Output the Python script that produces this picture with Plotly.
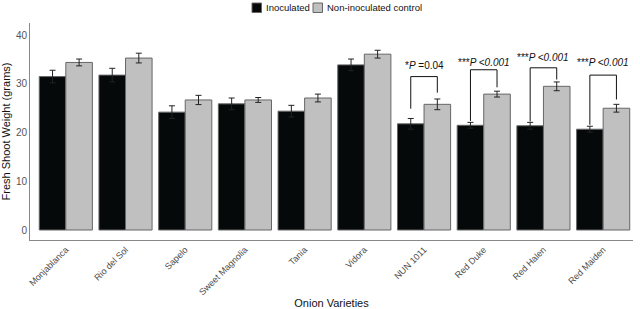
import plotly.graph_objects as go

varieties = ["Monjablanca", "Rio del Sol", "Sapelo", "Sweet Magnolia", "Tania",
             "Vidora", "NUN 1011", "Red Duke", "Red Halen", "Red Maiden"]
inoculated = [31.5, 31.8, 24.2, 25.9, 24.4, 33.9, 21.8, 21.5, 21.4, 20.7]
inoculated_err = [1.3, 1.4, 1.3, 1.2, 1.2, 1.2, 1.1, 0.6, 0.7, 0.6]
control = [34.4, 35.3, 26.7, 26.7, 27.1, 36.1, 25.8, 27.9, 29.5, 25.0]
control_err = [0.7, 1.0, 0.95, 0.5, 0.8, 0.8, 1.1, 0.6, 0.9, 0.8]

# significance brackets: variety index, label, top, left-leg bottom, right-leg bottom, label centre
sig_index = [6, 7, 8, 9]
sig_label = ["*<i>P</i> =0.04", "***<i>P <0.001</i>", "***<i>P <0.001</i>", "***<i>P <0.001</i>"]
sig_top = [31.5, 32.9, 33.3, 31.8]
sig_left = [24.9, 22.4, 22.3, 21.6]
sig_right = [28.2, 29.3, 30.9, 26.8]
sig_text_y = [33.7, 34.4, 35.5, 34.3]

series_names = ["Inoculated", "Non-inoculated control"]
series_colors = ["#050909", "#c0c0c0"]

FONT = "Liberation Sans, Arial, sans-serif"
BARGAP = 0.11
half = (1 - BARGAP) / 4

fig = go.Figure()
for name, col, vals, errs in zip(series_names, series_colors,
                                 [inoculated, control], [inoculated_err, control_err]):
    fig.add_trace(go.Bar(
        x=list(range(len(varieties))), y=vals, name=name, showlegend=False,
        marker=dict(color=col, line=dict(color="#666666", width=1)),
        error_y=dict(type="data", array=errs, color="#222222", thickness=1, width=3),
    ))

for i, lab, top, lb, rb, ty in zip(sig_index, sig_label, sig_top, sig_left, sig_right, sig_text_y):
    xl = i - half
    xr = i + half
    fig.add_shape(type="path", xref="x", yref="y",
                  path=f"M {xl} {lb} L {xl} {top} L {xr} {top} L {xr} {rb}",
                  line=dict(color="#111111", width=1))
    fig.add_annotation(x=i, y=ty, xref="x", yref="y", text=lab, showarrow=False,
                       font=dict(family=FONT, size=10, color="#111111"), yanchor="middle")

# manual legend (paper coords; plot area spans x 30..633 px, y 23..240 px)
PW, PH = 603.0, 217.0
def px(xp):
    return (xp - 30) / PW
def py(yp):
    return (240 - yp) / PH

leg_x = [252, 313]
for lx, name, col in zip(leg_x, series_names, series_colors):
    fig.add_shape(type="rect", xref="paper", yref="paper",
                  x0=px(lx), x1=px(lx + 9.5), y0=py(12.5), y1=py(3),
                  fillcolor=col, line=dict(color="#666666", width=1))
    fig.add_annotation(xref="paper", yref="paper", x=px(lx + 11.5), y=py(7.8), text=name,
                       showarrow=False, xanchor="left", yanchor="middle",
                       font=dict(family=FONT, size=9.5, color="#111111"))

fig.update_layout(
    width=640, height=309,
    margin=dict(l=30, r=7, t=23, b=69),
    plot_bgcolor="white", paper_bgcolor="white",
    barmode="group", bargap=BARGAP, bargroupgap=0,
    font=dict(family=FONT, size=10, color="#444444"),
    showlegend=False,
)
fig.update_xaxes(
    tickmode="array", tickvals=list(range(len(varieties))), ticktext=varieties,
    tickangle=-45, range=[-0.6, 9.5], showline=True, linecolor="#888888", linewidth=1,
    ticks="", showgrid=False, zeroline=False, tickfont=dict(size=9, color="#4a4a4a"),
    automargin=False,
    title=dict(text="Onion Varieties", font=dict(size=11, color="#111111"), standoff=6),
)
fig.update_yaxes(
    range=[-2.05, 42.5], tickvals=[0, 10, 20, 30, 40], showline=True, linecolor="#888888",
    linewidth=1, ticks="", showgrid=False, zeroline=False, tickfont=dict(size=10, color="#555555"),
    automargin=False,
    title=dict(text="Fresh Shoot Weight (grams)", font=dict(size=11, color="#111111"), standoff=4),
)

fig.write_html("out.html")
